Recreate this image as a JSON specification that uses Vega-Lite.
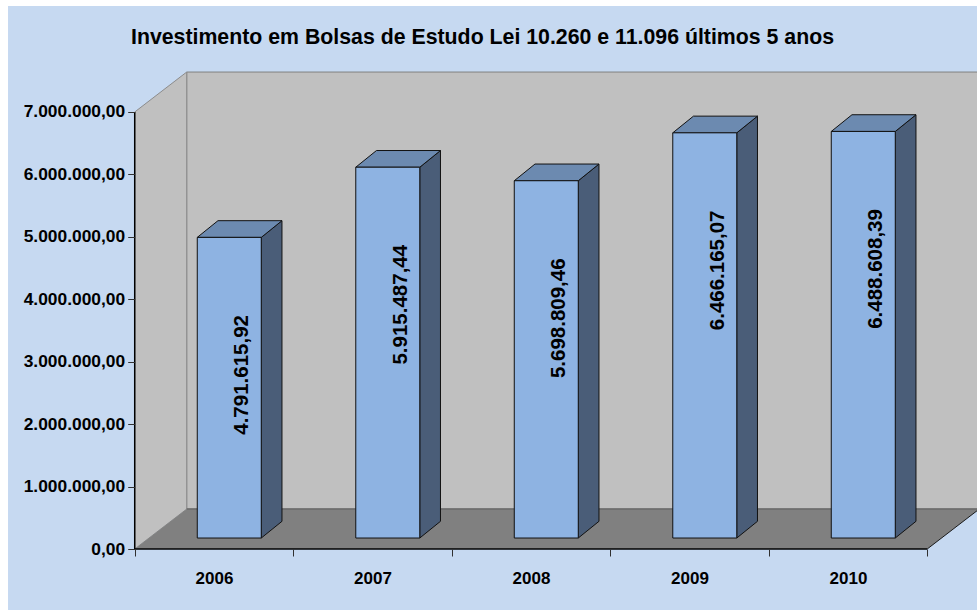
{
"$schema":"https://vega.github.io/schema/vega-lite/v6.json",
"width":977,"height":610,"padding":0,"autosize":{"type":"none"},
"background":"#ffffff",
"config":{"view":{"stroke":null},"font":"Liberation Sans",
 "axis":{"title":null,"domain":false,"grid":false,"zindex":1},
 "locale":{"number":{"decimal":",","thousands":".","grouping":[3],"currency":["",""]}}},
"title":{"text":"Investimento em Bolsas de Estudo Lei 10.260 e 11.096 últimos 5 anos","font":"Liberation Sans","fontSize":21.3,"fontWeight":"bold","color":"#000000","anchor":"middle","offset":-48,"dx":-6},
"data":{"values":[
 {"ano":2006,"valor":4791615.92},
 {"ano":2007,"valor":5915487.44},
 {"ano":2008,"valor":5698809.46},
 {"ano":2009,"valor":6466165.07},
 {"ano":2010,"valor":6488608.39}
]},
"transform":[
 {"calculate":"datum.ano-2006","as":"i"},
 {"calculate":"datum.i+0.3946","as":"xl"},
 {"calculate":"datum.i+0.7984","as":"xr"},
 {"calculate":"datum.i+0.5965","as":"xc"},
 {"calculate":"datum.valor+200000","as":"topo"}
],
"layer":[
 {"data":{"values":[{"a":0}]},
  "mark":{"type":"rect","fill":"#C6D9F1"},
  "encoding":{
   "x":{"datum":-0.7994,"type":"quantitative","title":null,
    "scale":{"domain":[-0.85,5.314],"nice":false,"zero":false},
    "axis":{"values":[0,1,2,3,4,5],"orient":"bottom","offset":-61,"zindex":1,"domain":false,"grid":false,"title":null,
     "tickColor":"#303030","tickSize":7,"labelOffset":79.25,"labelPadding":14,"labelFont":"Liberation Sans","labelFontSize":17,"labelFontWeight":"bold","labelColor":"#000000",
     "labelExpr":"datum.value<5?''+(2006+datum.value):''","labelBound":false,"labelFlush":false,"labelOverlap":false}},
   "x2":{"datum":5.314},
   "y":{"datum":-977000,"type":"quantitative","title":null,
    "scale":{"domain":[-977000,8794000],"nice":false,"zero":false},
    "axis":{"values":[0,1000000,2000000,3000000,4000000,5000000,6000000,7000000],"orient":"left","offset":-134.7,"zindex":1,"domain":false,"grid":false,"title":null,
     "format":",.2f","tickColor":"#303030","tickSize":7,"labelPadding":3,"labelFont":"Liberation Sans","labelFontSize":17.4,"labelFontWeight":"bold","labelColor":"#000000","labelBound":false,"labelFlush":false,"labelOverlap":false}},
   "y2":{"datum":8698000}
  }},
 {"data":{"values":[{"a":0}]},
  "mark":{"type":"rect","fill":"#C0C0C0","stroke":"#808080","strokeWidth":1,"clip":true},
  "encoding":{
   "x":{"datum":0.328,"type":"quantitative"},"x2":{"datum":5.5},
   "y":{"datum":640000,"type":"quantitative"},"y2":{"datum":7640000}
  }},
 {"data":{"values":[{"d":0},{"d":1}]},
  "transform":[{"calculate":"datum.d*0.328","as":"px"},{"calculate":"datum.d*640000","as":"p0"},{"calculate":"7000000+datum.d*640000","as":"p1"}],
  "mark":{"type":"area","fill":"#C0C0C0","stroke":"#8c8c8c","strokeWidth":1},
  "encoding":{
   "x":{"field":"px","type":"quantitative"},
   "y":{"field":"p0","type":"quantitative"},"y2":{"field":"p1"}
  }},
 {"data":{"values":[{"d":0},{"d":1}]},
  "transform":[{"calculate":"datum.d*0.328","as":"p0"},{"calculate":"5+datum.d*0.328","as":"p1"},{"calculate":"datum.d*640000","as":"py"}],
  "mark":{"type":"area","orient":"horizontal","fill":"#808080","clip":true},
  "encoding":{
   "x":{"field":"p0","type":"quantitative"},"x2":{"field":"p1"},
   "y":{"field":"py","type":"quantitative"}
  }},
 {"data":{"values":[{"d":0},{"d":1}]},
  "transform":[{"calculate":"5+datum.d*0.328","as":"px"},{"calculate":"datum.d*640000","as":"py"}],
  "mark":{"type":"line","color":"#1a1a1a","strokeWidth":1,"clip":true},
  "encoding":{
   "x":{"field":"px","type":"quantitative"},
   "y":{"field":"py","type":"quantitative"}
  }},
 {"data":{"values":[{"a":0}]},
  "mark":{"type":"rule","color":"#6a6a6a","strokeWidth":1.5,"clip":true},
  "encoding":{
   "x":{"datum":0.328,"type":"quantitative"},"x2":{"datum":5.5},
   "y":{"datum":640000,"type":"quantitative"}
  }},
 {"data":{"values":[{"a":0}]},
  "mark":{"type":"rule","color":"#000000","strokeWidth":1.5},
  "encoding":{
   "x":{"datum":0,"type":"quantitative"},
   "y":{"datum":0,"type":"quantitative"},"y2":{"datum":7000000}
  }},
 {"data":{"values":[{"a":0}]},
  "mark":{"type":"rule","color":"#000000","strokeWidth":1.5},
  "encoding":{
   "x":{"datum":0,"type":"quantitative"},"x2":{"datum":5},
   "y":{"datum":0,"type":"quantitative"}
  }},
 {"transform":[{"calculate":"[0,1]","as":"d"},{"flatten":["d"]},
   {"calculate":"datum.xr+datum.d*0.1306","as":"px"},
   {"calculate":"176000+datum.d*267500","as":"p0"},
   {"calculate":"datum.topo+datum.d*267500","as":"p1"}],
  "mark":{"type":"area","fill":"#4A5D78","stroke":"#111111","strokeWidth":1},
  "encoding":{
   "x":{"field":"px","type":"quantitative"},
   "y":{"field":"p0","type":"quantitative"},"y2":{"field":"p1"},
   "detail":{"field":"ano","type":"nominal"}
  }},
 {"transform":[{"calculate":"[0,1]","as":"d"},{"flatten":["d"]},
   {"calculate":"datum.xl+datum.d*0.1306","as":"p0"},
   {"calculate":"datum.xr+datum.d*0.1306","as":"p1"},
   {"calculate":"datum.topo+datum.d*267500","as":"py"}],
  "mark":{"type":"area","orient":"horizontal","fill":"#6C8AB0","stroke":"#111111","strokeWidth":1},
  "encoding":{
   "x":{"field":"p0","type":"quantitative"},"x2":{"field":"p1"},
   "y":{"field":"py","type":"quantitative"},
   "detail":{"field":"ano","type":"nominal"}
  }},
 {"transform":[{"calculate":"176000","as":"base"}],
  "mark":{"type":"rect","fill":"#8EB3E2","stroke":"#111111","strokeWidth":1},
  "encoding":{
   "x":{"field":"xl","type":"quantitative"},"x2":{"field":"xr"},
   "y":{"field":"topo","type":"quantitative"},"y2":{"field":"base"}
  }},
 {"mark":{"type":"text","angle":270,"align":"center","baseline":"middle","font":"Liberation Sans","fontSize":20.5,"fontWeight":"bold","color":"#000000","xOffset":13,"yOffset":137.5},
  "encoding":{
   "x":{"field":"xc","type":"quantitative"},
   "y":{"field":"topo","type":"quantitative"},
   "text":{"field":"valor","type":"quantitative","format":",.2f"}
  }}
]
}
